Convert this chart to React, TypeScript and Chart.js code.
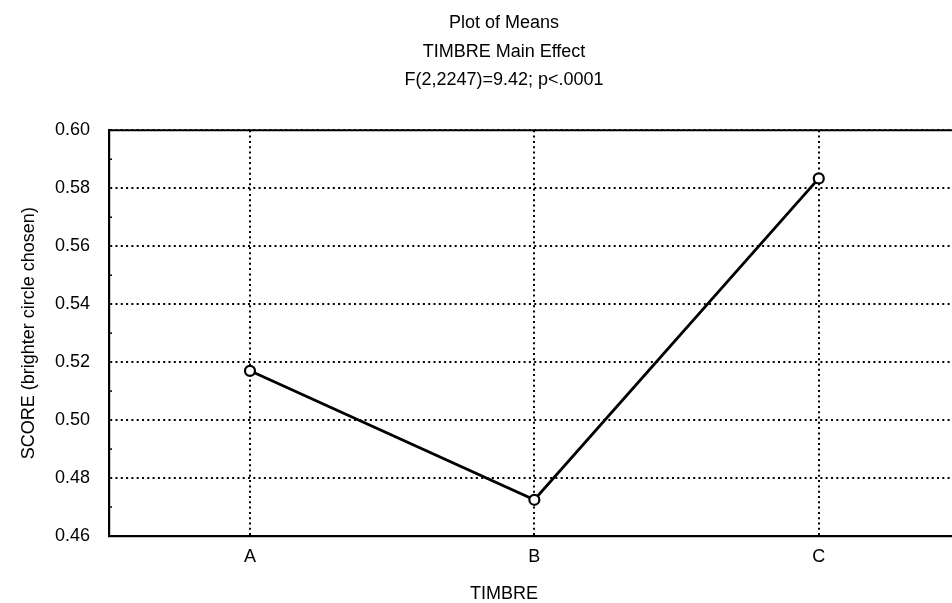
import React, { useEffect, useRef } from "react";
import { Chart, registerables } from "chart.js";

Chart.register(...registerables);

const categories: string[] = ["A", "B", "C"];
const means: number[] = [0.517, 0.4725, 0.5834];
const titleLines: string[] = ["Plot of Means", "TIMBRE Main Effect", "F(2,2247)=9.42; p<.0001"];
const xTitle = "TIMBRE";
const yTitle = "SCORE (brighter circle chosen)";
const yMin = 0.46;
const yMax = 0.6;
const yStep = 0.02;
const yMinor: number[] = [0.47, 0.49, 0.51, 0.53, 0.55, 0.57, 0.59];

const FONT = "'Liberation Sans', Arial, sans-serif";
const CANVAS_W = 1008;

const framePlugin = {
  id: "frame",
  afterDraw(chart: any) {
    const { ctx, chartArea, scales } = chart;
    ctx.save();
    ctx.strokeStyle = "#000";
    ctx.lineWidth = 2;
    ctx.beginPath();
    ctx.moveTo(chartArea.left - 1, chartArea.top);
    ctx.lineTo(chartArea.right, chartArea.top);
    ctx.stroke();
    ctx.lineWidth = 1.5;
    yMinor.forEach((v) => {
      const y = scales.y.getPixelForValue(v);
      ctx.beginPath();
      ctx.moveTo(chartArea.left, y);
      ctx.lineTo(chartArea.left + 3, y);
      ctx.stroke();
    });
    ctx.restore();
  },
};

export default function App() {
  const ref = useRef<HTMLCanvasElement | null>(null);
  useEffect(() => {
    if (!ref.current) return;
    const chart = new Chart(ref.current, {
      type: "line",
      data: {
        datasets: [
          {
            data: means.map((m, i) => ({ x: i, y: m })),
            borderColor: "#000",
            borderWidth: 2.8,
            pointRadius: 5,
            pointBorderWidth: 2.2,
            pointBackgroundColor: "#fff",
            pointBorderColor: "#000",
            fill: false,
            tension: 0,
          },
        ],
      },
      options: {
        animation: false,
        responsive: true,
        maintainAspectRatio: false,
        layout: { padding: 0 },
        plugins: {
          legend: { display: false },
          tooltip: { enabled: false },
          title: {
            display: true,
            text: titleLines,
            color: "#000",
            font: { family: FONT, size: 18, weight: "normal", lineHeight: 1.58 },
            padding: { top: 9, bottom: 36 },
          },
          subtitle: {
            display: true,
            position: "bottom",
            text: xTitle,
            color: "#000",
            font: { family: FONT, size: 18, weight: "normal", lineHeight: 1 },
            padding: { top: 0, bottom: 0 },
          },
        },
        scales: {
          x: {
            type: "linear",
            min: -0.4956,
            max: 2.64,
            afterBuildTicks: (scale: any) => {
              scale.ticks = categories.map((_, i) => ({ value: i }));
            },
            afterFit: (scale: any) => {
              scale.height = 49;
            },
            ticks: {
              callback: (v: any) => categories[v] ?? "",
              color: "#000",
              font: { family: FONT, size: 18 },
              padding: 10,
              maxRotation: 0,
              autoSkip: false,
            },
            grid: {
              color: "#000",
              lineWidth: 2,
              drawTicks: false,
            },
            border: { display: true, color: "#000", width: 2.2, dash: [2, 3.3] },
            title: { display: false },
          },
          y: {
            min: yMin,
            max: yMax,
            afterBuildTicks: (scale: any) => {
              const t: any[] = [];
              for (let v = yMin; v <= yMax + 1e-9; v += yStep) t.push({ value: Math.round(v * 100) / 100 });
              scale.ticks = t;
            },
            afterFit: (scale: any) => {
              scale.width = 109;
            },
            ticks: {
              callback: (v: any) => Number(v).toFixed(2),
              color: "#000",
              font: { family: FONT, size: 18 },
              padding: 19,
            },
            grid: {
              color: "#000",
              lineWidth: 2,
              drawTicks: false,
            },
            border: { display: true, color: "#000", width: 2.2, dash: [2, 3.3] },
            title: {
              display: true,
              text: yTitle,
              color: "#000",
              font: { family: FONT, size: 18, lineHeight: 1 },
              padding: { top: 20, bottom: 0 },
            },
          },
        },
      },
      plugins: [framePlugin],
    } as any);
    return () => chart.destroy();
  }, []);
  return (
    <div style={{ position: "fixed", left: 0, top: 0, width: 952, height: 603, overflow: "hidden", background: "#fff" }}>
      <div style={{ width: CANVAS_W, height: 603 }}>
        <canvas ref={ref} />
      </div>
    </div>
  );
}
